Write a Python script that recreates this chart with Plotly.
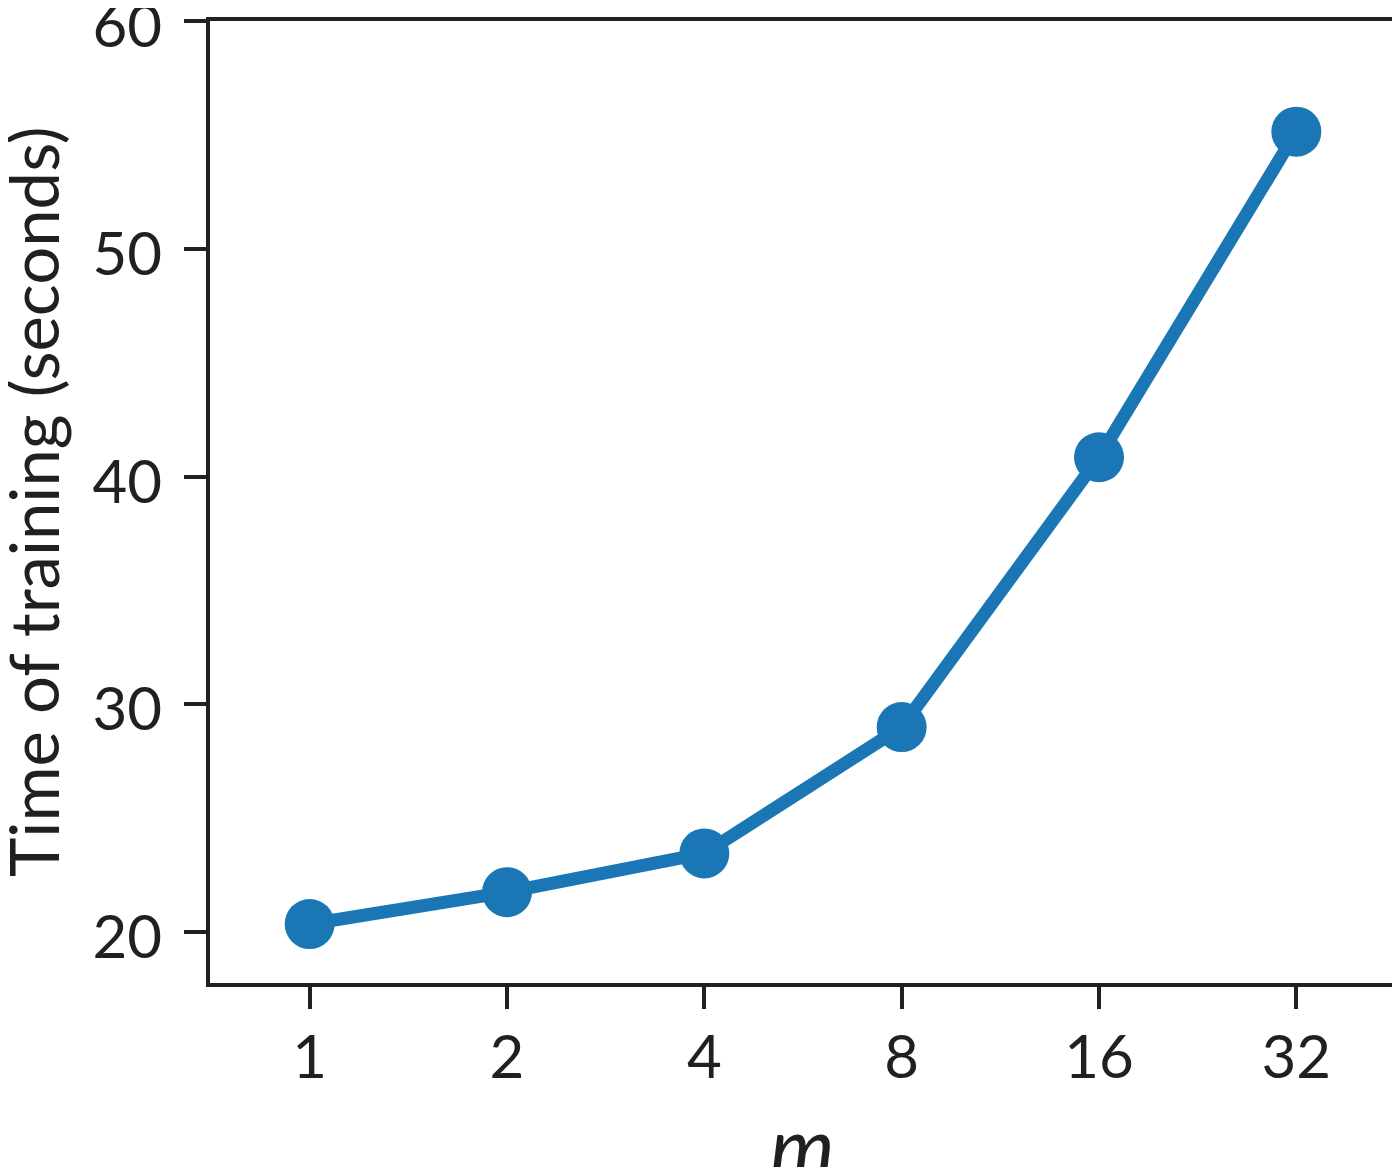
import plotly.graph_objects as go

m_labels = ["1", "2", "4", "8", "16", "32"]
train_time = [20.35, 21.75, 23.45, 29.0, 40.85, 55.15]
y_ticks = [20, 30, 40, 50, 60]

font_family = "Lato, Open Sans, sans-serif"
ink = "#231f20"

fig = go.Figure()
fig.add_trace(go.Scatter(
    x=m_labels, y=train_time, mode="lines+markers",
    line=dict(color="#1a76b4", width=13),
    marker=dict(color="#1a76b4", size=50),
    showlegend=False, cliponaxis=False,
))

fig.update_layout(
    width=1400, height=1167,
    margin=dict(l=202, r=13, t=13, b=192),
    paper_bgcolor="white", plot_bgcolor="white",
    font=dict(family=font_family, size=60, color=ink),
)
fig.update_xaxes(
    type="category", range=[-0.505, 5.5], automargin=False,
    showline=True, mirror=True, linewidth=4, linecolor=ink,
    ticks="outside", ticklen=22, tickwidth=4, tickcolor=ink,
    showgrid=False, zeroline=False, ticklabelstandoff=-3,
    ticklabeloverflow="allow",
)
fig.update_yaxes(
    range=[17.76, 60.01], tickvals=y_ticks, automargin=False,
    showline=True, mirror=True, linewidth=4, linecolor=ink,
    ticks="outside", ticklen=22, tickwidth=4, tickcolor=ink,
    showgrid=False, zeroline=False, ticklabelstandoff=10,
    ticklabelshift=5, ticklabeloverflow="allow",
)
fig.add_annotation(
    text="Time of training (seconds)", textangle=-90,
    xref="paper", yref="paper", x=0, y=0.5, xanchor="center", yanchor="middle",
    xshift=-177, showarrow=False, font=dict(size=67),
)
fig.add_annotation(
    text="<i>m</i>",
    xref="paper", yref="paper", x=0.5, y=0, xanchor="center", yanchor="middle",
    yshift=-161, showarrow=False, font=dict(size=82),
)
fig.write_html("out.html")
